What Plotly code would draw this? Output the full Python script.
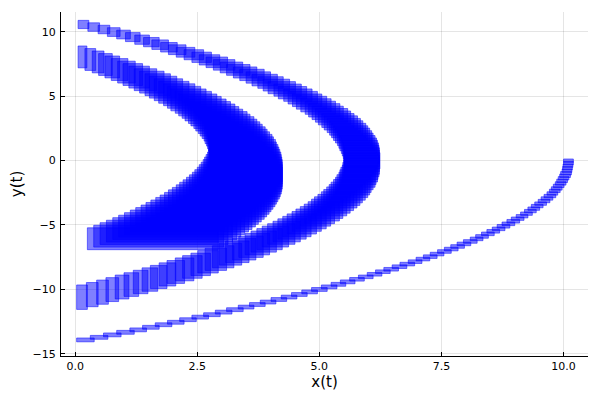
import plotly.graph_objects as go

# phase portrait of a bouncing ball, each state drawn as an uncertainty box
# first fall
xa = [10.10, 10.10, 10.09, 10.08, 10.07, 10.05, 10.03, 10.00, 9.97, 9.94,
      9.90, 9.86, 9.82, 9.77, 9.72, 9.66, 9.60, 9.53, 9.46, 9.39,
      9.32, 9.24, 9.15, 9.06, 8.97, 8.87, 8.77, 8.67, 8.56, 8.45,
      8.33, 8.22, 8.09, 7.96, 7.83, 7.70, 7.56, 7.41, 7.27, 7.12,
      6.96, 6.80, 6.64, 6.47, 6.30, 6.13, 5.95, 5.77, 5.58, 5.39,
      5.20, 5.00, 4.80, 4.59, 4.38, 4.17, 3.95, 3.73, 3.50, 3.27,
      3.04, 2.80, 2.56, 2.31, 2.06, 1.81, 1.55, 1.29, 1.03, 0.76,
      0.49, 0.21]
ya = [0.00, -0.20, -0.39, -0.59, -0.78, -0.98, -1.18, -1.37, -1.57, -1.77,
      -1.96, -2.16, -2.35, -2.55, -2.75, -2.94, -3.14, -3.34, -3.53, -3.73,
      -3.92, -4.12, -4.32, -4.51, -4.71, -4.91, -5.10, -5.30, -5.49, -5.69,
      -5.89, -6.08, -6.28, -6.47, -6.67, -6.87, -7.06, -7.26, -7.46, -7.65,
      -7.85, -8.04, -8.24, -8.44, -8.63, -8.83, -9.03, -9.22, -9.42, -9.61,
      -9.81, -10.01, -10.20, -10.40, -10.60, -10.79, -10.99, -11.18, -11.38, -11.58,
      -11.77, -11.97, -12.16, -12.36, -12.56, -12.75, -12.95, -13.15, -13.34, -13.54,
      -13.73, -13.93]
xa_err = [0.10, 0.10, 0.10, 0.10, 0.10, 0.11, 0.11, 0.11, 0.11, 0.11,
          0.11, 0.11, 0.11, 0.11, 0.12, 0.12, 0.12, 0.12, 0.12, 0.12,
          0.12, 0.12, 0.12, 0.13, 0.13, 0.13, 0.13, 0.13, 0.13, 0.13,
          0.13, 0.13, 0.14, 0.14, 0.14, 0.14, 0.14, 0.14, 0.14, 0.14,
          0.14, 0.15, 0.15, 0.15, 0.15, 0.15, 0.15, 0.15, 0.15, 0.15,
          0.16, 0.16, 0.16, 0.16, 0.16, 0.16, 0.16, 0.16, 0.16, 0.17,
          0.17, 0.17, 0.17, 0.17, 0.17, 0.17, 0.17, 0.17, 0.18, 0.18,
          0.18, 0.18]
ya_err = [0.13, 0.13, 0.13, 0.13, 0.13, 0.13, 0.13, 0.13, 0.13, 0.13,
          0.13, 0.13, 0.13, 0.13, 0.13, 0.13, 0.13, 0.13, 0.13, 0.13,
          0.13, 0.13, 0.13, 0.13, 0.14, 0.14, 0.14, 0.14, 0.14, 0.14,
          0.14, 0.14, 0.14, 0.14, 0.14, 0.14, 0.14, 0.14, 0.14, 0.14,
          0.14, 0.14, 0.14, 0.14, 0.14, 0.14, 0.14, 0.14, 0.15, 0.15,
          0.15, 0.15, 0.15, 0.15, 0.15, 0.15, 0.15, 0.15, 0.15, 0.15,
          0.15, 0.15, 0.15, 0.15, 0.15, 0.15, 0.15, 0.15, 0.15, 0.15,
          0.15, 0.15]

# first bounce
xb = [0.17, 0.38, 0.59, 0.79, 0.99, 1.18, 1.37, 1.56, 1.74, 1.92,
      2.09, 2.26, 2.43, 2.59, 2.75, 2.90, 3.05, 3.20, 3.34, 3.48,
      3.62, 3.75, 3.88, 4.00, 4.12, 4.23, 4.35, 4.45, 4.56, 4.66,
      4.75, 4.84, 4.93, 5.02, 5.10, 5.17, 5.25, 5.31, 5.38, 5.44,
      5.50, 5.55, 5.60, 5.64, 5.68, 5.72, 5.75, 5.78, 5.81, 5.83,
      5.85, 5.86, 5.87, 5.87, 5.88, 5.87, 5.87, 5.86, 5.84, 5.83,
      5.80, 5.78, 5.75, 5.71, 5.68, 5.64, 5.59, 5.54, 5.49, 5.43,
      5.37, 5.30, 5.23, 5.16, 5.09, 5.00, 4.92, 4.83, 4.74, 4.64,
      4.54, 4.44, 4.33, 4.22, 4.10, 3.98, 3.86, 3.73, 3.60, 3.46,
      3.32, 3.18, 3.03, 2.88, 2.72, 2.57, 2.40, 2.24, 2.06, 1.89,
      1.71, 1.53, 1.34, 1.15, 0.96, 0.76, 0.56, 0.35, 0.14]
yb = [10.58, 10.38, 10.19, 9.99, 9.80, 9.60, 9.40, 9.21, 9.01, 8.81,
      8.62, 8.42, 8.23, 8.03, 7.83, 7.64, 7.44, 7.24, 7.05, 6.85,
      6.66, 6.46, 6.26, 6.07, 5.87, 5.67, 5.48, 5.28, 5.09, 4.89,
      4.69, 4.50, 4.30, 4.11, 3.91, 3.71, 3.52, 3.32, 3.12, 2.93,
      2.73, 2.54, 2.34, 2.14, 1.95, 1.75, 1.55, 1.36, 1.16, 0.97,
      0.77, 0.57, 0.38, 0.18, -0.01, -0.21, -0.41, -0.60, -0.80, -1.00,
      -1.19, -1.39, -1.58, -1.78, -1.98, -2.17, -2.37, -2.57, -2.76, -2.96,
      -3.15, -3.35, -3.55, -3.74, -3.94, -4.14, -4.33, -4.53, -4.72, -4.92,
      -5.12, -5.31, -5.51, -5.70, -5.90, -6.10, -6.29, -6.49, -6.69, -6.88,
      -7.08, -7.27, -7.47, -7.67, -7.86, -8.06, -8.26, -8.45, -8.65, -8.84,
      -9.04, -9.24, -9.43, -9.63, -9.82, -10.02, -10.22, -10.41, -10.61]
xb_err = [0.11, 0.12, 0.12, 0.13, 0.14, 0.15, 0.15, 0.16, 0.17, 0.17,
          0.18, 0.19, 0.20, 0.20, 0.21, 0.22, 0.22, 0.23, 0.24, 0.24,
          0.25, 0.25, 0.26, 0.26, 0.27, 0.28, 0.28, 0.29, 0.29, 0.30,
          0.30, 0.31, 0.31, 0.31, 0.32, 0.32, 0.33, 0.33, 0.33, 0.34,
          0.34, 0.34, 0.35, 0.35, 0.35, 0.35, 0.35, 0.36, 0.36, 0.36,
          0.36, 0.36, 0.36, 0.36, 0.36, 0.36, 0.36, 0.36, 0.36, 0.36,
          0.36, 0.36, 0.35, 0.35, 0.35, 0.35, 0.35, 0.34, 0.34, 0.34,
          0.33, 0.33, 0.33, 0.32, 0.32, 0.31, 0.31, 0.31, 0.30, 0.30,
          0.29, 0.29, 0.28, 0.28, 0.27, 0.26, 0.26, 0.25, 0.25, 0.24,
          0.24, 0.23, 0.22, 0.22, 0.21, 0.20, 0.20, 0.19, 0.18, 0.17,
          0.17, 0.16, 0.15, 0.15, 0.14, 0.13, 0.12, 0.12, 0.11]
yb_err = [0.32, 0.33, 0.33, 0.34, 0.34, 0.35, 0.36, 0.36, 0.37, 0.37,
          0.38, 0.38, 0.39, 0.40, 0.40, 0.41, 0.41, 0.42, 0.42, 0.43,
          0.44, 0.44, 0.45, 0.45, 0.46, 0.47, 0.47, 0.48, 0.48, 0.49,
          0.49, 0.50, 0.51, 0.51, 0.52, 0.52, 0.53, 0.54, 0.54, 0.55,
          0.55, 0.56, 0.56, 0.57, 0.58, 0.58, 0.59, 0.59, 0.60, 0.61,
          0.61, 0.62, 0.62, 0.63, 0.63, 0.64, 0.65, 0.65, 0.66, 0.66,
          0.67, 0.68, 0.68, 0.69, 0.69, 0.70, 0.70, 0.71, 0.72, 0.72,
          0.73, 0.73, 0.74, 0.75, 0.75, 0.76, 0.76, 0.77, 0.77, 0.78,
          0.79, 0.79, 0.80, 0.80, 0.81, 0.82, 0.82, 0.83, 0.83, 0.84,
          0.84, 0.85, 0.86, 0.86, 0.87, 0.87, 0.88, 0.89, 0.89, 0.90,
          0.90, 0.91, 0.91, 0.92, 0.93, 0.93, 0.94, 0.94, 0.95]

# second bounce
xc = [0.15, 0.31, 0.47, 0.62, 0.76, 0.91, 1.05, 1.18, 1.31, 1.44,
      1.57, 1.69, 1.80, 1.91, 2.02, 2.13, 2.23, 2.32, 2.42, 2.51,
      2.59, 2.67, 2.75, 2.82, 2.89, 2.95, 3.02, 3.07, 3.13, 3.18,
      3.22, 3.26, 3.30, 3.33, 3.36, 3.39, 3.41, 3.43, 3.44, 3.45,
      3.46, 3.46, 3.46, 3.45, 3.44, 3.43, 3.41, 3.39, 3.37, 3.34,
      3.31, 3.27, 3.23, 3.18, 3.13, 3.08, 3.02, 2.96, 2.90, 2.83,
      2.76, 2.68, 2.60, 2.52, 2.43, 2.34, 2.24, 2.14, 2.04, 1.93,
      1.82, 1.71, 1.59]
yc = [8.06, 7.86, 7.67, 7.47, 7.28, 7.08, 6.88, 6.69, 6.49, 6.29,
      6.10, 5.90, 5.71, 5.51, 5.31, 5.12, 4.92, 4.72, 4.53, 4.33,
      4.14, 3.94, 3.74, 3.55, 3.35, 3.15, 2.96, 2.76, 2.57, 2.37,
      2.17, 1.98, 1.78, 1.59, 1.39, 1.19, 1.00, 0.80, 0.60, 0.41,
      0.21, 0.02, -0.18, -0.38, -0.57, -0.77, -0.97, -1.16, -1.36, -1.55,
      -1.75, -1.95, -2.14, -2.34, -2.53, -2.73, -2.93, -3.12, -3.32, -3.52,
      -3.71, -3.91, -4.10, -4.30, -4.50, -4.69, -4.89, -5.09, -5.28, -5.48,
      -5.67, -5.87, -6.07]
xc_err = [0.09, 0.11, 0.12, 0.14, 0.15, 0.17, 0.18, 0.20, 0.21, 0.23,
          0.25, 0.26, 0.28, 0.29, 0.31, 0.32, 0.34, 0.36, 0.37, 0.39,
          0.40, 0.42, 0.43, 0.45, 0.46, 0.48, 0.50, 0.51, 0.53, 0.54,
          0.56, 0.57, 0.59, 0.60, 0.62, 0.64, 0.65, 0.67, 0.68, 0.70,
          0.71, 0.73, 0.75, 0.77, 0.79, 0.81, 0.83, 0.85, 0.87, 0.89,
          0.91, 0.93, 0.95, 0.97, 0.99, 1.01, 1.03, 1.05, 1.07, 1.09,
          1.11, 1.13, 1.15, 1.17, 1.19, 1.21, 1.23, 1.25, 1.27, 1.29,
          1.31, 1.33, 1.34]
yc_err = [0.85, 0.85, 0.85, 0.85, 0.85, 0.85, 0.85, 0.85, 0.85, 0.85,
          0.85, 0.85, 0.85, 0.85, 0.85, 0.85, 0.85, 0.85, 0.85, 0.85,
          0.85, 0.85, 0.85, 0.85, 0.85, 0.85, 0.85, 0.85, 0.85, 0.85,
          0.85, 0.85, 0.85, 0.85, 0.85, 0.85, 0.85, 0.85, 0.85, 0.85,
          0.85, 0.85, 0.85, 0.85, 0.85, 0.85, 0.85, 0.85, 0.85, 0.85,
          0.85, 0.85, 0.85, 0.85, 0.85, 0.85, 0.85, 0.85, 0.85, 0.85,
          0.85, 0.85, 0.85, 0.85, 0.85, 0.85, 0.85, 0.85, 0.85, 0.85,
          0.85, 0.85, 0.85]

x_ticks = [0, 2.5, 5, 7.5, 10]
y_ticks = [-15, -10, -5, 0, 5, 10]

BLUE = "rgba(0,0,255,0.5)"


def box_trace(xs, ys, xerr, yerr):
    """One translucent rectangle per state, x +- xerr by y +- yerr"""
    return go.Bar(
        x=xs,
        y=[2 * e for e in yerr],
        base=[y - e for y, e in zip(ys, yerr)],
        width=[2 * e for e in xerr],
        marker=dict(color=BLUE, line=dict(color=BLUE, width=1)),
        hoverinfo="skip",
        showlegend=False,
    )


fig = go.Figure()
fig.add_trace(box_trace(xa, ya, xa_err, ya_err))
fig.add_trace(box_trace(xb, yb, xb_err, yb_err))
fig.add_trace(box_trace(xc, yc, xc_err, yc_err))

axis_style = dict(
    showgrid=True, gridcolor="rgba(0,0,0,0.1)", gridwidth=1,
    showline=True, linecolor="black", linewidth=1, mirror=False,
    ticks="inside", ticklen=4, tickcolor="black", zeroline=False,
    tickfont=dict(size=11, color="black"), automargin=False,
)

# the page body adds an 8px offset, so the margins are shifted to match
fig.update_layout(
    width=600, height=400,
    margin=dict(l=53, r=20, t=4, b=52),
    plot_bgcolor="white", paper_bgcolor="white",
    barmode="overlay", showlegend=False,
    font=dict(family="DejaVu Sans", size=11, color="black"),
)
fig.update_xaxes(range=[-0.29, 10.50], tickvals=x_ticks, tickformat=".1f",
                 title=dict(text="x(t)", font=dict(size=15), standoff=2),
                 **axis_style)
fig.update_yaxes(range=[-15.18, 11.55], tickvals=y_ticks,
                 ticklabelstandoff=2,
                 title=dict(text="y(t)", font=dict(size=15), standoff=16),
                 **axis_style)

fig.write_html("out.html")
